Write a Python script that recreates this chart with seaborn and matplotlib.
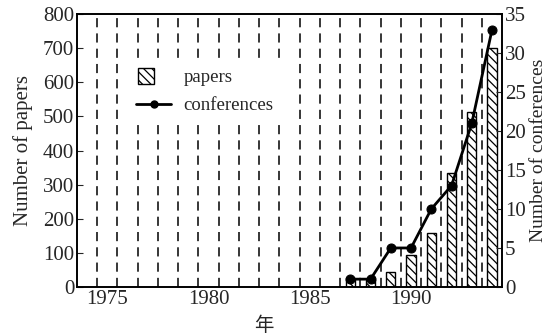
import numpy as np
import pandas as pd
import seaborn as sns
import matplotlib.pyplot as plt
from matplotlib.patches import Rectangle
from matplotlib.lines import Line2D
from matplotlib.legend_handler import HandlerPatch

# data
years = [1987, 1988, 1989, 1990, 1991, 1992, 1993, 1994]
papers = [25, 20, 44, 94, 159, 335, 512, 700]
conferences = [1, 1, 5, 5, 10, 13, 21, 33]
year_ticks = [1975, 1980, 1985, 1990]

sns.set_style("ticks")
plt.rcParams["font.family"] = ["Liberation Serif", "Noto Sans CJK SC"]
plt.rcParams["font.size"] = 15
plt.rcParams["hatch.linewidth"] = 0.9

df = pd.DataFrame({"year": years, "papers": papers, "conferences": conferences})

fig = plt.figure(figsize=(5.5, 3.36), dpi=100)
ax = fig.add_axes([0.14, 0.146, 0.773, 0.812])

# dashed year separators
for x in np.arange(1974.5, 1994, 1.0):
    ax.axvline(x, color="black", lw=1.1, ls=(0, (6, 4)), zorder=0)

sns.barplot(data=df, x="year", y="papers", native_scale=True, width=0.45,
            color="white", edgecolor="black", linewidth=1.0, ax=ax, zorder=2)
for p in ax.patches:
    p.set_hatch("\\\\\\\\")
    p.set_facecolor("white")

ax.set_xlim(1973.5, 1994.5)
ax.set_ylim(0, 800)
ax.set_yticks(range(0, 801, 100))
ax.set_xticks(year_ticks)
ax.set_xticklabels([str(y) for y in year_ticks])
ax.set_ylabel("Number of papers", fontsize=15, labelpad=7)
ax.set_xlabel("年", fontsize=14)
ax.xaxis.set_label_coords(0.44, -0.11)
ax.tick_params(axis="y", direction="in", length=4, labelsize=15, pad=2)
ax.tick_params(axis="x", length=0, pad=2, labelsize=15)

ax2 = ax.twinx()
sns.lineplot(data=df, x="year", y="conferences", color="black", lw=2,
             marker="o", markersize=6.5, markeredgecolor="black", ax=ax2)
ax2.set_ylim(0, 35)
ax2.set_yticks(range(0, 36, 5))
ax2.set_ylabel("Number of conferences", fontsize=14, labelpad=3)
ax2.tick_params(axis="y", direction="in", length=4, labelsize=15, pad=2)
ax2.set_xlim(1973.5, 1994.5)

for a in (ax, ax2):
    for s in a.spines.values():
        s.set_visible(True)
        s.set_linewidth(1.2)
        s.set_color("black")


def square(legend, orig_handle, xdescent, ydescent, width, height, fontsize):
    return Rectangle((width * 0.06 - xdescent, -ydescent - height * 0.15),
                     width * 0.45, height * 1.2)


h1 = Rectangle((0, 0), 1, 1, facecolor="white", edgecolor="black", hatch="\\\\\\\\", lw=1)
h2 = Line2D([], [], color="black", lw=2, marker="o", markersize=5)
leg = ax2.legend([h1, h2], ["papers", "conferences"], loc="upper left",
                 bbox_to_anchor=(0.1, 0.862), frameon=True, fancybox=False,
                 edgecolor="white", facecolor="white", framealpha=1,
                 handlelength=1.87, handletextpad=0.64, labelspacing=0.6, fontsize=13.5,
                 handler_map={Rectangle: HandlerPatch(patch_func=square)})

fig.savefig("out.png", dpi=100)
